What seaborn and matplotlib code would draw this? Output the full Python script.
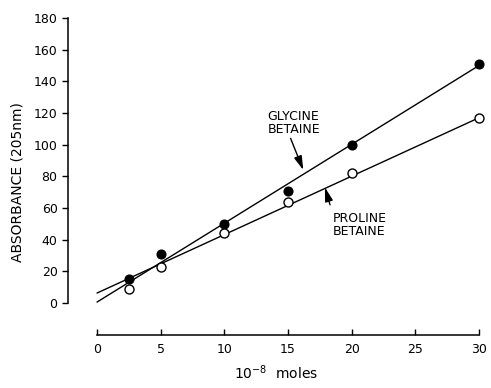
import matplotlib
matplotlib.use("Agg")
import matplotlib.pyplot as plt
import numpy as np
import pandas as pd
import seaborn as sns

# Measured absorbance at 205 nm vs amount of betaine (10^-8 moles)
moles = [2.5, 5, 10, 15, 20, 30]
glycine_betaine = [15, 31, 50, 71, 100, 151]
proline_betaine = [9, 23, 44, 64, 82, 117]

# Fitted calibration lines, given by their values at 0 and 30 (10^-8 moles)
line_x = [0, 30]
glycine_fit = [0.6, 150]
proline_fit = [6.3, 117]

x_ticks = [0, 5, 10, 15, 20, 25, 30]
y_ticks = [0, 20, 40, 60, 80, 100, 120, 140, 160, 180]

sns.set_theme(style="white")
plt.rcParams["font.family"] = ["DejaVu Sans"]
plt.rcParams.update({"text.color": "black", "axes.labelcolor": "black",
                     "xtick.color": "black", "ytick.color": "black"})

points = pd.DataFrame({"x": moles, "gly": glycine_betaine, "pro": proline_betaine})
fits = pd.DataFrame({"x": line_x, "gly": glycine_fit, "pro": proline_fit})

fig = plt.figure(figsize=(4.91, 3.88), dpi=100)
ax = fig.add_axes([68 / 491, 1 - 335 / 388, 411 / 491, 317 / 388])

sns.lineplot(data=fits, x="x", y="gly", ax=ax, color="black", linewidth=1.0)
sns.lineplot(data=fits, x="x", y="pro", ax=ax, color="black", linewidth=1.0)

sns.scatterplot(data=points, x="x", y="gly", ax=ax, s=42, color="black",
                edgecolor="black", linewidth=0.8, clip_on=False, zorder=3)
sns.scatterplot(data=points, x="x", y="pro", ax=ax, s=42, color="white",
                edgecolor="black", linewidth=1.0, clip_on=False, zorder=3)

ax.set_xlim(-2.28, 30)
ax.set_ylim(-20.2, 180)

for side in ("top", "right"):
    ax.spines[side].set_visible(False)
for side in ("left", "bottom"):
    ax.spines[side].set_color("black")
    ax.spines[side].set_linewidth(1.1)
ax.spines["left"].set_bounds(0, 180)
ax.spines["bottom"].set_bounds(0, 30)

ax.set_xticks(x_ticks)
ax.set_yticks(y_ticks)
ax.set_xticklabels([str(v) for v in x_ticks])
ax.set_yticklabels([str(v) for v in y_ticks])
ax.tick_params(axis="x", direction="in", length=4, width=1.0, color="black",
               labelsize=9, pad=6, bottom=True)
ax.tick_params(axis="y", direction="out", length=4.5, width=1.0, color="black",
               labelsize=9, pad=3, left=True)

ax.set_ylabel("ABSORBANCE (205nm)", fontsize=10)
ax.yaxis.set_label_coords(-0.105, 0.483)
ax.set_xlabel(r"$10^{-8}$  moles", fontsize=10, va="top")
ax.xaxis.set_label_coords(0.507, -0.09)

arrow = dict(arrowstyle="-|>,head_length=0.7,head_width=0.2", color="black",
             lw=1.0, shrinkA=0, shrinkB=0)
ax.annotate("", xy=(16.2, 84), xytext=(15.2, 104), arrowprops=arrow)
ax.annotate("", xy=(17.9, 73), xytext=(18.3, 62), arrowprops=arrow)
ax.text(13.4, 122, "GLYCINE\nBETAINE", fontsize=9, ha="left", va="top",
        linespacing=1.0)
ax.text(18.5, 57.5, "PROLINE\nBETAINE", fontsize=9, ha="left", va="top",
        linespacing=1.0)

fig.savefig("out.png", dpi=100)
